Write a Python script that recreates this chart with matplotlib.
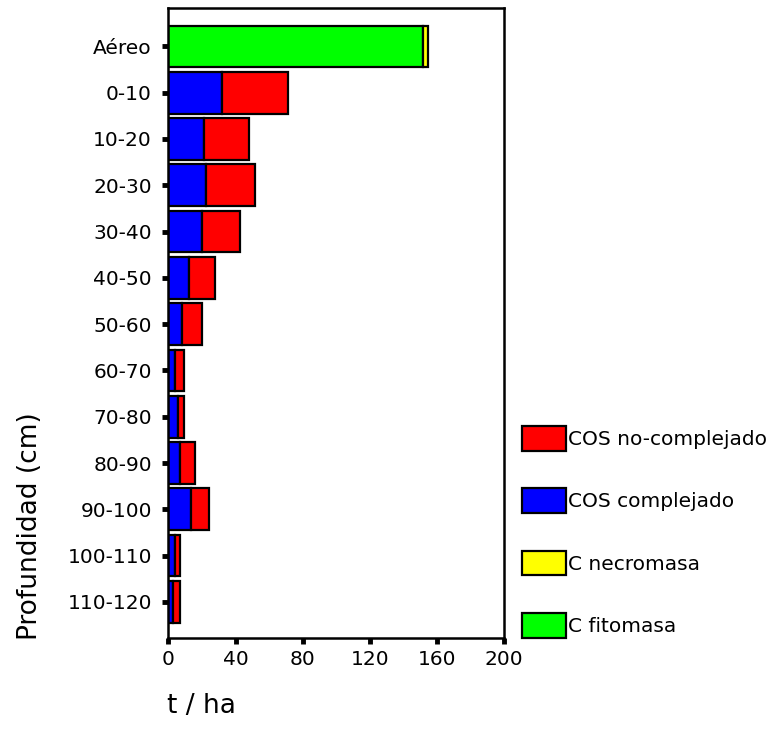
import numpy as np
import matplotlib.pyplot as plt
from matplotlib.patches import Patch

capas = ["Aéreo", "0-10", "10-20", "20-30", "30-40", "40-50", "50-60",
         "60-70", "70-80", "80-90", "90-100", "100-110", "110-120"]
fitomasa = [151.5, 0, 0, 0, 0, 0, 0, 0, 0, 0, 0, 0, 0]
necromasa = [3.0, 0, 0, 0, 0, 0, 0, 0, 0, 0, 0, 0, 0]
cos_compl = [0, 31.9, 21.4, 22.6, 20.2, 12.0, 8.2, 4.1, 5.5, 6.9, 13.6, 4.1, 2.5]
cos_nocompl = [0, 39.5, 26.4, 29.2, 22.2, 15.9, 11.8, 5.3, 3.9, 9.1, 10.5, 2.9, 4.5]
xticks = [0, 40, 80, 120, 160, 200]

plt.rcParams['font.family'] = ['DejaVu Sans']

fig = plt.figure(figsize=(7.79, 7.49), dpi=100)
ax = fig.add_axes([0.2163, 0.1482, 0.647 - 0.2163, 0.9887 - 0.1482])

y = np.arange(len(capas))
h = 0.9
kw = dict(height=h, edgecolor="black", linewidth=1.6)

# fila aerea: fitomasa + necromasa
fito = np.array(fitomasa)
necro = np.array(necromasa)
ax.barh(y[:1], fito[:1], color="#00FF00", **kw)
ax.barh(y[:1], necro[:1], left=fito[:1], color="#FFFF00", **kw)

# filas de suelo: complejado + no complejado
comp = np.array(cos_compl)
nocomp = np.array(cos_nocompl)
ax.barh(y[1:], comp[1:], color="#0000FF", **kw)
ax.barh(y[1:], nocomp[1:], left=comp[1:], color="#FF0000", **kw)

ax.set_xlim(0, 200)
ax.set_ylim(12.78, -0.82)
ax.set_xticks(xticks)
ax.set_xticklabels([str(v) for v in xticks])
ax.set_yticks(y)
ax.set_yticklabels(capas)

ax.tick_params(axis="both", direction="out", length=4, width=3.5,
               labelsize=14.5, color="black")
ax.tick_params(axis="y", pad=8)
ax.tick_params(axis="x", pad=5)
for s in ax.spines.values():
    s.set_linewidth(1.8)

fig.text(0.038, 1 - 526 / 749, "Profundidad (cm)", rotation=90,
         fontsize=19, ha="center", va="center")
fig.text(201 / 779, 1 - 706 / 749, "t / ha", fontsize=19,
         ha="center", va="center")

handles = [Patch(facecolor="#FF0000", edgecolor="black", linewidth=1.6, label="COS no-complejado"),
           Patch(facecolor="#0000FF", edgecolor="black", linewidth=1.6, label="COS complejado"),
           Patch(facecolor="#FFFF00", edgecolor="black", linewidth=1.6, label="C necromasa"),
           Patch(facecolor="#00FF00", edgecolor="black", linewidth=1.6, label="C fitomasa")]
fig.legend(handles=handles, loc="upper left",
           bbox_to_anchor=(522 / 779, 1 - 426 / 749), frameon=False,
           fontsize=14.5, handlelength=2.19, handleheight=1.5,
           handletextpad=0.1, labelspacing=1.88, borderpad=0, borderaxespad=0)

fig.savefig("out.png", dpi=100)
